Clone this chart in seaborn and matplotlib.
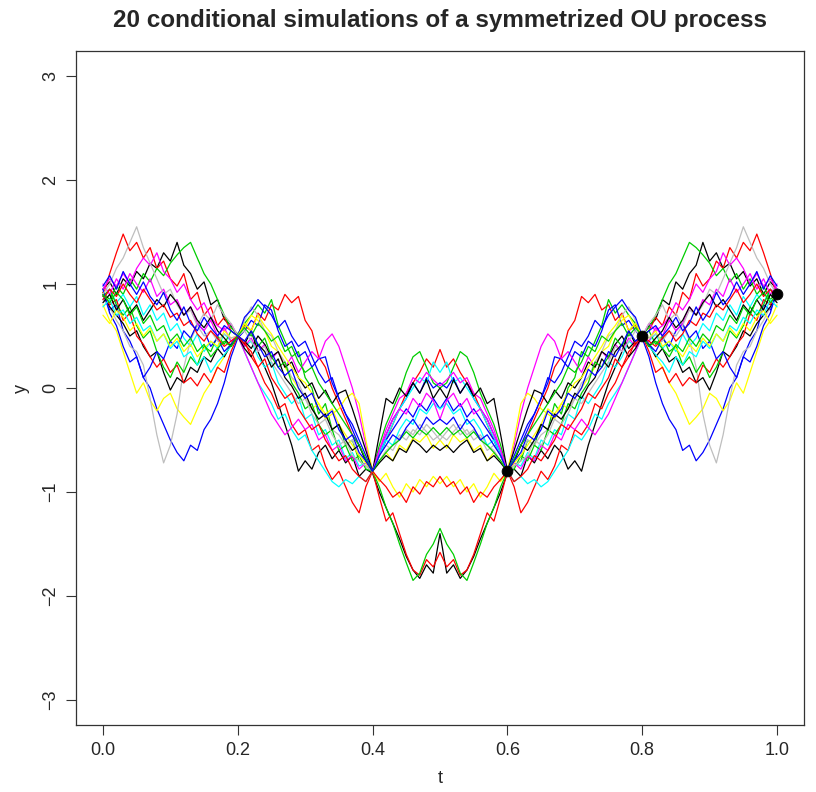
import numpy as np
import pandas as pd
import matplotlib
matplotlib.use("Agg")
import matplotlib.pyplot as plt
import seaborn as sns

# half paths read at t = 0.00, 0.01, ..., 0.50 (the process is symmetric about t = 0.5)
t_half = [round(0.01 * i, 2) for i in range(51)]

sim01 = [0.95, 1.02, 0.90, 1.05, 0.98, 1.12, 1.05, 1.20, 1.15, 1.30, 1.22, 1.40, 1.18, 1.10, 0.95, 1.02, 0.80, 0.85, 0.66, 0.60,
         0.50, 0.42, 0.55, 0.35, 0.20, 0.05, -0.15, -0.35, -0.55, -0.80, -0.70, -0.78, -0.62, -0.55, -0.68, -0.60, -0.72, -0.65, -0.85, -0.78,
         -0.82, -1.00, -1.15, -1.30, -1.45, -1.62, -1.75, -1.83, -1.70, -1.78, -1.40]
sim02 = [0.88, 1.10, 1.30, 1.48, 1.32, 1.40, 1.25, 1.35, 1.15, 1.22, 1.05, 0.98, 1.10, 0.85, 0.92, 0.70, 0.78, 0.60, 0.68, 0.55,
         0.50, 0.60, 0.55, 0.72, 0.65, 0.80, 0.75, 0.90, 0.82, 0.88, 0.65, 0.55, 0.30, 0.20, 0.00, -0.15, -0.30, -0.45, -0.55, -0.70,
         -0.80, -0.65, -0.50, -0.35, -0.20, -0.05, 0.05, 0.15, 0.28, 0.20, 0.37]
sim03 = [0.92, 0.85, 0.98, 0.90, 1.05, 0.95, 1.10, 1.02, 1.15, 1.08, 1.20, 1.28, 1.35, 1.40, 1.25, 1.10, 1.00, 0.85, 0.70, 0.58,
         0.52, 0.62, 0.70, 0.80, 0.72, 0.85, 0.60, 0.45, 0.30, 0.35, 0.10, 0.00, -0.25, -0.15, -0.40, -0.35, -0.55, -0.50, -0.70, -0.75,
         -0.80, -0.55, -0.35, -0.20, -0.05, 0.15, 0.30, 0.35, 0.20, 0.05, 0.00]
sim04 = [0.90, 0.75, 0.80, 0.55, 0.45, 0.30, 0.10, 0.00, -0.20, -0.35, -0.50, -0.62, -0.70, -0.55, -0.60, -0.40, -0.30, -0.15, 0.05, 0.30,
         0.48, 0.55, 0.65, 0.60, 0.80, 0.75, 0.55, 0.40, 0.45, 0.30, 0.35, 0.20, 0.28, 0.30, 0.05, -0.10, -0.25, -0.40, -0.55, -0.70,
         -0.80, -0.60, -0.45, -0.30, -0.20, -0.10, 0.05, -0.05, 0.10, 0.00, 0.05]
sim05 = [0.85, 0.95, 0.82, 0.90, 0.78, 0.88, 0.70, 0.80, 0.65, 0.72, 0.55, 0.62, 0.48, 0.40, 0.52, 0.35, 0.45, 0.38, 0.52, 0.45,
         0.50, 0.40, 0.45, 0.30, 0.20, 0.25, 0.05, -0.05, -0.15, -0.08, -0.30, -0.25, -0.45, -0.40, -0.55, -0.50, -0.68, -0.62, -0.75, -0.72,
         -0.80, -0.62, -0.48, -0.35, -0.20, -0.10, 0.00, 0.10, 0.05, 0.25, 0.15]
sim06 = [0.95, 1.05, 0.98, 1.10, 1.00, 1.15, 1.25, 1.18, 1.30, 1.12, 1.05, 0.92, 1.00, 0.85, 0.75, 0.82, 0.68, 0.60, 0.55, 0.62,
         0.50, 0.40, 0.48, 0.35, 0.42, 0.28, 0.35, 0.20, 0.30, 0.15, 0.25, 0.35, 0.28, 0.45, 0.52, 0.40, 0.20, 0.00, -0.25, -0.55,
         -0.80, -0.60, -0.40, -0.25, -0.10, -0.05, 0.10, 0.05, 0.15, 0.08, 0.02]
sim07 = [0.80, 0.65, 0.55, 0.35, 0.15, -0.05, 0.05, -0.12, -0.22, -0.10, -0.05, -0.20, -0.28, -0.35, -0.20, -0.05, 0.05, 0.20, 0.30, 0.42,
         0.50, 0.58, 0.70, 0.65, 0.55, 0.40, 0.35, 0.20, 0.10, 0.00, -0.10, -0.20, -0.15, -0.30, -0.25, -0.20, -0.10, -0.05, -0.15, -0.50,
         -0.80, -0.70, -0.62, -0.70, -0.55, -0.60, -0.48, -0.52, -0.45, -0.58, -0.50]
sim08 = [0.85, 0.78, 0.65, 0.55, 0.40, 0.35, 0.22, -0.10, -0.45, -0.72, -0.55, -0.25, 0.20, 0.46, 0.60, 0.72, 0.65, 0.80, 0.70, 0.62,
         0.50, 0.65, 0.78, 0.70, 0.55, 0.50, 0.35, 0.25, 0.10, 0.05, -0.10, -0.20, -0.30, -0.25, -0.40, -0.45, -0.55, -0.50, -0.65, -0.70,
         -0.80, -0.70, -0.60, -0.55, -0.45, -0.50, -0.40, -0.45, -0.35, -0.42, -0.50]
sim09 = [0.90, 0.78, 0.70, 0.62, 0.50, 0.55, 0.40, 0.30, 0.35, 0.15, -0.02, 0.10, 0.05, 0.20, 0.15, 0.30, 0.25, 0.38, 0.30, 0.42,
         0.50, 0.45, 0.38, 0.50, 0.42, 0.30, 0.35, 0.20, 0.25, 0.10, 0.00, 0.05, -0.10, -0.02, -0.15, -0.05, -0.02, -0.20, -0.40, -0.60,
         -0.80, -0.45, -0.10, -0.15, 0.00, -0.08, 0.05, -0.05, 0.08, -0.10, 0.00]
sim10 = [0.92, 0.80, 0.85, 0.65, 0.72, 0.50, 0.42, 0.30, 0.20, 0.28, 0.15, 0.22, 0.05, 0.10, 0.02, 0.14, 0.05, 0.20, 0.15, 0.35,
         0.50, 0.45, 0.30, 0.20, 0.05, -0.05, -0.20, -0.15, -0.35, -0.45, -0.40, -0.60, -0.55, -0.75, -0.88, -0.80, -0.95, -1.10, -1.20, -0.95,
         -0.80, -1.05, -1.28, -1.20, -1.40, -1.60, -1.75, -1.80, -1.65, -1.72, -1.58]
sim11 = [0.88, 0.95, 0.80, 0.70, 0.78, 0.60, 0.48, 0.55, 0.35, 0.20, 0.10, 0.25, 0.15, 0.30, 0.22, 0.40, 0.35, 0.50, 0.42, 0.55,
         0.50, 0.62, 0.55, 0.40, 0.48, 0.30, 0.20, 0.25, 0.05, -0.05, -0.20, -0.15, -0.35, -0.45, -0.40, -0.60, -0.55, -0.70, -0.65, -0.78,
         -0.80, -0.95, -1.15, -1.30, -1.50, -1.68, -1.85, -1.78, -1.60, -1.50, -1.35]
sim12 = [0.95, 0.72, 0.60, 0.40, 0.25, 0.30, 0.10, 0.20, 0.35, 0.28, 0.45, 0.38, 0.55, 0.48, 0.62, 0.55, 0.40, 0.48, 0.35, 0.42,
         0.50, 0.68, 0.75, 0.85, 0.78, 0.70, 0.58, 0.65, 0.50, 0.40, 0.45, 0.30, 0.15, 0.05, 0.10, -0.10, -0.25, -0.35, -0.50, -0.65,
         -0.80, -0.65, -0.50, -0.40, -0.30, -0.20, -0.28, -0.15, -0.22, -0.10, -0.20]
sim13 = [0.78, 0.85, 0.70, 0.75, 0.62, 0.68, 0.55, 0.60, 0.45, 0.52, 0.38, 0.45, 0.30, 0.35, 0.22, 0.30, 0.15, 0.25, 0.32, 0.40,
         0.50, 0.35, 0.20, 0.05, -0.05, -0.15, -0.30, -0.25, -0.40, -0.50, -0.45, -0.60, -0.70, -0.80, -0.90, -0.95, -0.88, -0.92, -0.85, -0.90,
         -0.80, -0.65, -0.50, -0.55, -0.40, -0.30, -0.35, -0.20, -0.25, -0.15, -0.20]
sim14 = [1.00, 0.90, 1.05, 0.95, 1.10, 1.00, 0.92, 1.05, 0.88, 0.95, 0.80, 0.85, 0.70, 0.78, 0.62, 0.55, 0.65, 0.50, 0.58, 0.45,
         0.50, 0.35, 0.20, 0.05, -0.10, -0.25, -0.35, -0.45, -0.38, -0.30, -0.40, -0.35, -0.50, -0.45, -0.60, -0.55, -0.70, -0.65, -0.78, -0.72,
         -0.80, -0.60, -0.45, -0.30, -0.20, -0.25, -0.10, -0.18, -0.05, -0.12, -0.30]
sim15 = [0.70, 0.62, 0.75, 0.68, 0.55, 0.62, 0.50, 0.58, 0.45, 0.52, 0.40, 0.48, 0.35, 0.42, 0.30, 0.38, 0.45, 0.40, 0.55, 0.48,
         0.50, 0.62, 0.55, 0.70, 0.60, 0.52, 0.40, 0.30, 0.20, 0.10, 0.05, -0.05, -0.15, -0.25, -0.20, -0.35, -0.45, -0.55, -0.65, -0.72,
         -0.80, -0.90, -0.82, -0.95, -1.05, -0.92, -1.00, -0.88, -0.95, -0.85, -0.92]
sim16 = [0.90, 1.00, 1.15, 1.25, 1.40, 1.55, 1.35, 1.20, 1.05, 0.90, 0.95, 0.80, 0.70, 0.75, 0.60, 0.50, 0.55, 0.45, 0.52, 0.48,
         0.50, 0.55, 0.45, 0.35, 0.40, 0.25, 0.15, 0.05, -0.05, -0.15, -0.10, -0.25, -0.35, -0.30, -0.45, -0.55, -0.50, -0.65, -0.70, -0.75,
         -0.80, -0.65, -0.55, -0.60, -0.48, -0.40, -0.45, -0.35, -0.42, -0.50, -0.45]
sim17 = [0.82, 0.90, 0.75, 0.85, 0.72, 0.80, 0.65, 0.75, 0.85, 0.78, 0.90, 0.82, 0.70, 0.78, 0.65, 0.58, 0.68, 0.55, 0.48, 0.40,
         0.50, 0.38, 0.30, 0.42, 0.35, 0.20, 0.28, 0.10, 0.02, -0.10, -0.05, -0.20, -0.30, -0.25, -0.40, -0.35, -0.50, -0.60, -0.55, -0.70,
         -0.80, -0.72, -0.65, -0.70, -0.58, -0.62, -0.50, -0.55, -0.62, -0.55, -0.60]
sim18 = [0.85, 0.95, 0.88, 1.00, 0.90, 0.82, 0.95, 0.85, 0.75, 0.80, 0.68, 0.72, 0.60, 0.65, 0.52, 0.45, 0.55, 0.48, 0.40, 0.45,
         0.50, 0.42, 0.35, 0.20, 0.28, 0.10, 0.00, -0.10, -0.05, -0.20, -0.30, -0.40, -0.35, -0.50, -0.60, -0.70, -0.65, -0.78, -0.85, -0.90,
         -0.80, -0.88, -0.95, -1.05, -1.00, -1.10, -0.95, -1.02, -0.90, -0.95, -0.85]
sim19 = [0.90, 0.82, 0.92, 0.85, 0.70, 0.78, 0.62, 0.70, 0.55, 0.60, 0.45, 0.52, 0.40, 0.48, 0.35, 0.42, 0.30, 0.38, 0.45, 0.40,
         0.50, 0.58, 0.50, 0.62, 0.55, 0.45, 0.50, 0.35, 0.40, 0.25, 0.15, 0.20, 0.05, -0.05, -0.15, -0.25, -0.35, -0.45, -0.55, -0.68,
         -0.80, -0.70, -0.62, -0.55, -0.50, -0.42, -0.48, -0.40, -0.45, -0.38, -0.45]
sim20 = [0.98, 1.08, 0.95, 1.12, 1.00, 0.90, 1.02, 0.88, 0.80, 0.92, 0.75, 0.65, 0.78, 0.62, 0.55, 0.68, 0.58, 0.50, 0.60, 0.55,
         0.50, 0.45, 0.55, 0.42, 0.30, 0.35, 0.20, 0.12, 0.18, 0.00, -0.10, -0.05, -0.20, -0.28, -0.22, -0.40, -0.50, -0.45, -0.62, -0.70,
         -0.80, -0.65, -0.55, -0.45, -0.50, -0.38, -0.30, -0.40, -0.28, -0.35, -0.30]

sims = [sim01, sim02, sim03, sim04, sim05, sim06, sim07, sim08, sim09, sim10,
        sim11, sim12, sim13, sim14, sim15, sim16, sim17, sim18, sim19, sim20]

# conditioning points
obs_t = [0.6, 0.8, 1.0]
obs_y = [-0.8, 0.5, 0.9]

# old R palette, recycled over the 20 curves
r_palette = ["#000000", "#FF0000", "#00CD00", "#0000FF", "#00FFFF", "#FF00FF", "#FFFF00", "#BEBEBE"]

rows = []
for k, half in enumerate(sims):
    full = list(half) + list(half[-2::-1])  # mirror about t = 0.5
    t_full = t_half + [round(1 - s, 2) for s in t_half[-2::-1]]
    for tt, yy in zip(t_full, full):
        rows.append({"sim": k, "t": tt, "y": yy})
df = pd.DataFrame(rows)

sns.set_style("white")
plt.rcParams["font.family"] = ["Liberation Sans", "DejaVu Sans"]

fig = plt.figure(figsize=(8.16, 7.92), dpi=100)
ax = fig.add_axes([0.0931, 0.0846, 0.8922, 0.851])

colors = [r_palette[k % 8] for k in range(len(sims))]
sns.lineplot(data=df, x="t", y="y", hue="sim", palette=colors, estimator=None,
             sort=False, legend=False, linewidth=0.9, ax=ax)
sns.scatterplot(x=obs_t, y=obs_y, color="black", s=60, edgecolor="black", zorder=5, ax=ax)

ax.set_xlim(-0.04, 1.04)
ax.set_ylim(-3.24, 3.24)
ax.set_xticks([0.0, 0.2, 0.4, 0.6, 0.8, 1.0])
ax.set_xticklabels(["0.0", "0.2", "0.4", "0.6", "0.8", "1.0"])
ax.set_yticks([-3, -2, -1, 0, 1, 2, 3])
ax.set_yticklabels(["\u22123", "\u22122", "\u22121", "0", "1", "2", "3"], rotation=90, va="center")
ax.tick_params(axis="both", direction="out", length=7, width=0.8, color="#333333",
               labelsize=13, pad=5, bottom=True, left=True)
for s in ax.spines.values():
    s.set_color("#333333")
    s.set_linewidth(0.9)

ax.set_xlabel("t", fontsize=13, labelpad=8)
ax.set_ylabel("y", fontsize=13, labelpad=9)
ax.set_title("20 conditional simulations of a symmetrized OU process",
             fontsize=17.5, fontweight="bold", pad=17)

fig.savefig("out.png", dpi=100)
